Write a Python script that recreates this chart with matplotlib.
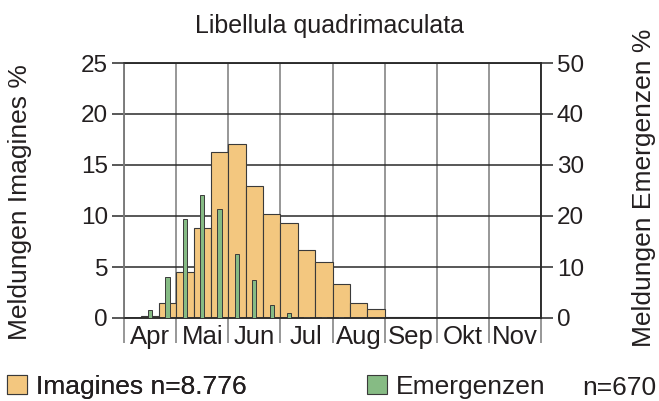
import matplotlib
matplotlib.use("Agg")
import matplotlib.pyplot as plt
from matplotlib.patches import Patch

# data: one value per decade (3 per month), April .. November
months = ["Apr", "Mai", "Jun", "Jul", "Aug", "Sep", "Okt", "Nov"]
imagines = [0, 0.2, 1.5, 4.5, 8.8, 16.3, 17.1, 12.9, 10.2, 9.3, 6.7, 5.5,
            3.3, 1.5, 0.9, 0.1, 0.05, 0.03, 0, 0, 0, 0, 0, 0]
emergenzen = [0, 1.6, 8.1, 19.5, 24.2, 21.3, 12.5, 7.5, 2.6, 0.9, 0.2, 0.2,
              0.1, 0, 0, 0, 0, 0, 0, 0, 0, 0, 0, 0]
left_ticks = [0, 5, 10, 15, 20, 25]
right_ticks = [0, 10, 20, 30, 40, 50]

plt.rcParams["font.family"] = ["Liberation Sans", "DejaVu Sans"]

orange = "#f3c77f"
green = "#86bb84"
edge = "#3a3a3a"
vgray = "#7a7a7a"
hdark = "#2a2a2a"
txt = "#231f20"

W, H = 659, 401
fig = plt.figure(figsize=(W / 100, H / 100), dpi=100)
ax = fig.add_axes([124 / W, 1 - 318 / H, (541 - 124) / W, (318 - 63) / H])
ax2 = ax.twinx()

n = len(imagines)
pos = list(range(n))
ax.bar(pos, imagines, width=1, align="edge", color=orange,
       edgecolor=edge, linewidth=0.8, zorder=2)
ax2.bar([p + 0.5 for p in pos], emergenzen, width=0.24, color=green,
        edgecolor=edge, linewidth=0.7, zorder=3)

ax.set_xlim(0, n)
ax.set_ylim(0, 25)
ax2.set_ylim(0, 50)

# month borders as long gray ticks, month names centred in between
ax.set_xticks(range(0, n + 1, 3))
ax.set_xticklabels([])
ax.set_xticks([i * 3 + 1.5 for i in range(len(months))], minor=True)
ax.set_xticklabels(months, minor=True, fontsize=18.5, color=txt)
ax.tick_params(axis="x", which="major", length=18, width=1.1, color=vgray,
               direction="out")
ax.tick_params(axis="x", which="minor", length=0, pad=5)
ax.xaxis.grid(True, which="major", color=vgray, linewidth=1.1)

ax.set_yticks(left_ticks)
ax.tick_params(axis="y", length=8.5, width=1.1, color=hdark, pad=3,
               labelsize=17.5, labelcolor=txt)
ax.yaxis.grid(True, color=hdark, linewidth=1.1)
ax.set_axisbelow(True)

ax2.set_yticks(right_ticks)
ax2.tick_params(axis="y", length=8.5, width=1.1, color=hdark, pad=3,
                labelsize=17.5, labelcolor=txt)

for a in (ax, ax2):
    a.spines["left"].set_color(vgray)
    a.spines["right"].set_color(hdark)
    a.spines["top"].set_color(hdark)
    a.spines["bottom"].set_color(hdark)
    for s in a.spines.values():
        s.set_linewidth(1.1)

fig.text(0.5, 1 - 33 / H, "Libellula quadrimaculata", ha="center",
         va="baseline", fontsize=18, color=txt)
fig.text(20 / W, 1 - 202 / H, "Meldungen Imagines %", rotation=90,
         ha="center", va="center", fontsize=19, color=txt)
fig.text(644 / W, 1 - 188 / H, "Meldungen Emergenzen %", rotation=90,
         ha="center", va="center", fontsize=19, color=txt)

# legend
leg_kw = dict(loc="lower left", frameon=False, fontsize=19,
              handlelength=0.75, handleheight=0.7, handletextpad=0.35,
              borderpad=0.05, borderaxespad=0, labelcolor=txt)
leg1 = fig.legend(handles=[Patch(facecolor=orange, edgecolor=edge, linewidth=0.8)],
                  labels=["Imagines n=8.776"],
                  bbox_to_anchor=(6 / W, 1 / H), **leg_kw)
fig.add_artist(leg1)
fig.legend(handles=[Patch(facecolor=green, edgecolor=edge, linewidth=0.8)],
           labels=["Emergenzen"],
           bbox_to_anchor=(366 / W, 1 / H), **leg_kw)
fig.text(656 / W, 1 - 395 / H, "n=670", ha="right", va="baseline",
         fontsize=19, color=txt)

plt.savefig("out.png", dpi=100)
